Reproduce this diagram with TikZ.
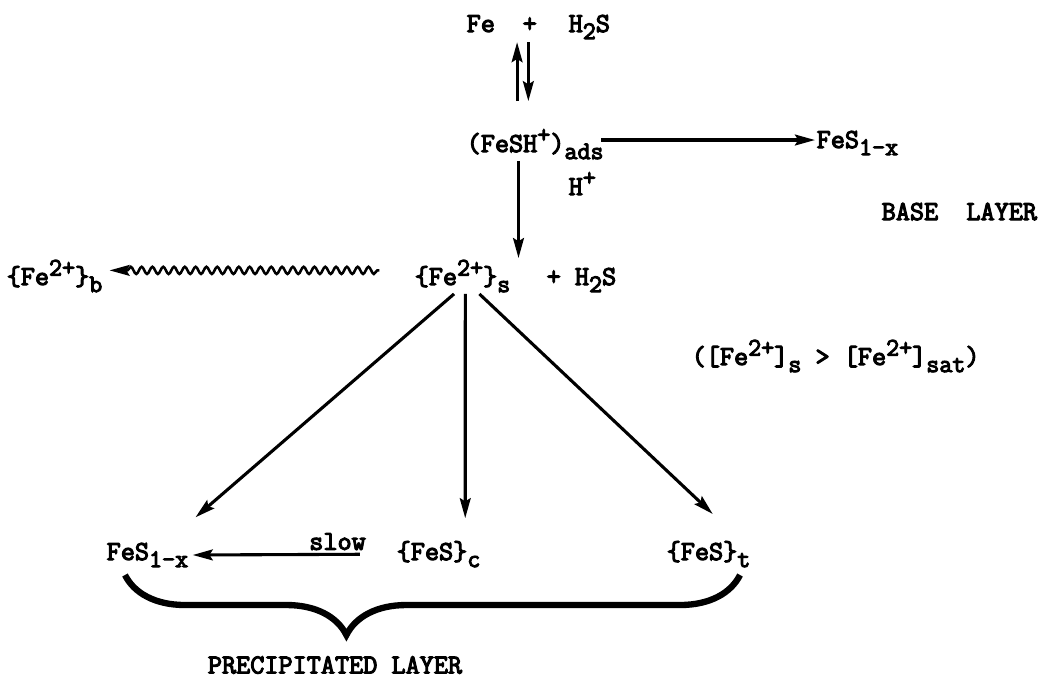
\documentclass[tikz,border=0pt]{standalone}
\usepackage{fontspec}
\setmonofont{Latin Modern Mono}[FakeBold=4]
\usetikzlibrary{positioning,arrows.meta,decorations.pathmorphing,decorations.pathreplacing}
\newcommand{\lo}[1]{\raisebox{-0.6ex}{\fontsize{18}{18}\selectfont #1}}
\newcommand{\hi}[1]{\raisebox{0.8ex}{\fontsize{18}{18}\selectfont #1}}

\begin{document}
\begin{tikzpicture}[x=0.025cm, y=-0.025cm, every node/.style={font=\ttfamily\fontsize{19.5}{22}\selectfont, inner sep=1pt},
  chem/.style={anchor=base west},
  rxn/.style={-{Stealth[length=5mm, width=2.7mm, inset=0.8mm]}, line width=2.2pt},
  wavy/.style={decorate, decoration={snake, amplitude=0.9mm, segment length=2.7mm, pre length=0.5mm, post length=3.5mm}, line width=1.8pt},
  layerbrace/.style={decorate, decoration={brace, mirror, amplitude=1.5cm, aspect=0.36}, line width=4.5pt}]
\useasboundingbox (0,0) rectangle (1056,679);
% top: adsorption on the metal
\node[chem] (fe) at (465,32) {Fe};
\node[chem] (plus) at (521,32) {+};
\node[chem] (h2s) at (567,32) {H\lo{2}S};
\node[chem] (fesh) at (465,152) {(FeSH\hi{+})\lo{ads}};
\node[chem] (fesa) at (815,148) {FeS\lo{1-x}};
\node[chem] (hplus) at (567,195) {H\hi{+}};
\node[chem] (base) at (880,220) {BASE~~LAYER};
% dissolved iron
\node[chem] (febulk) at (5,285) {\{Fe\hi{2+}\}\lo{b}};
\node[chem] (fesurf) at (413,285) {\{Fe\hi{2+}\}\lo{s}};
\node[chem] (h2sb) at (545,285) {+ H\lo{2}S};
\node[chem] (cond) at (690,365) {([Fe\hi{2+}]\lo{s}~>~[Fe\hi{2+}]\lo{sat})};
% precipitated layer
\node[chem] (fesb) at (105,560) {FeS\lo{1-x}};
\node[chem] (fesc) at (395,560) {\{FeS\}\lo{c}};
\node[chem] (fest) at (665,560) {\{FeS\}\lo{t}};
\node (precip) at (335,665) {PRECIPITATED LAYER};

\draw[rxn] ([xshift=-9pt,yshift=-48pt]plus.south) -- ([xshift=-9pt,yshift=-6pt]plus.south);
\draw[rxn] ([xshift=-1pt,yshift=-6pt]plus.south) -- ([xshift=-1pt,yshift=-48pt]plus.south);
\draw[rxn] ([xshift=-3pt,yshift=3pt]fesh.east) -- ([yshift=3pt]fesh.east -| fesa.west);
\draw[rxn] ([xshift=-8pt]plus.south |- fesh.south) -- ([xshift=-8pt]plus.south |- fesurf.north);
\draw[rxn, wavy] ([xshift=-24pt,yshift=4pt]fesurf.west) -- ([xshift=4pt,yshift=4pt]febulk.east);
\draw[rxn] ([xshift=-6pt]fesurf.south) -- ([xshift=4pt,yshift=17pt]fesb.north east);
\draw[rxn] ([xshift=2pt]fesurf.south) -- ([xshift=19pt,yshift=15pt]fesc.north);
\draw[rxn] ([xshift=12pt]fesurf.south) -- ([xshift=3pt,yshift=18pt]fest.north);
\draw[rxn, shorten <=25pt, shorten >=2pt] (fesc.west) -- node[pos=0.28, above=1pt] (slow) {slow} (fesb.east);
\draw[layerbrace] (125,575) -- (740,575);
\end{tikzpicture}
\end{document}
